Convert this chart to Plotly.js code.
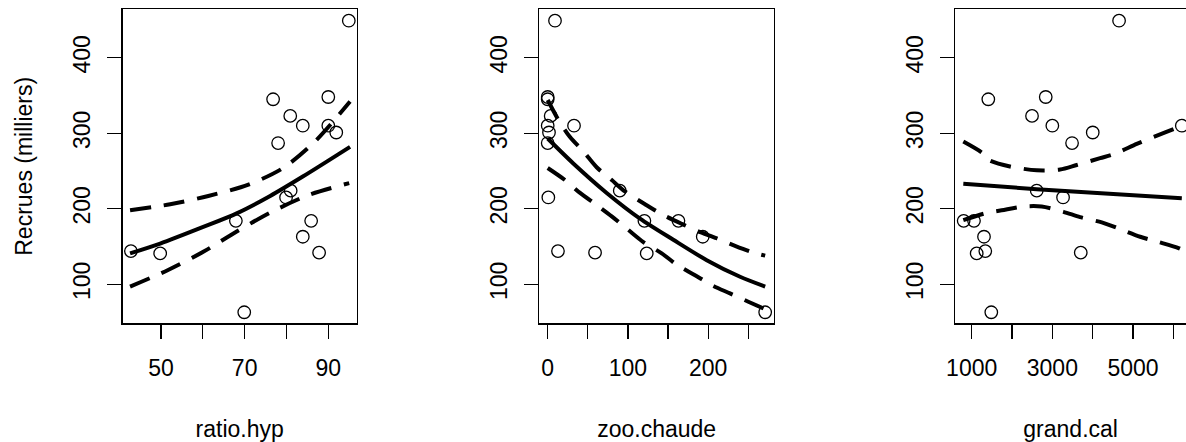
<!DOCTYPE html>
<html>
<head>
<meta charset="utf-8">
<script src="https://cdn.plot.ly/plotly-3.0.1.min.js"></script>
<style>html,body{margin:0;padding:0;background:#fff;}#chart{width:1186px;height:442px;}</style>
</head>
<body>
<div id="chart"></div>
<script>
// ---- observed data (one row per year) ----
const recrues   = [449, 348, 345, 323, 310, 310, 301, 287, 224, 215, 184, 184, 163, 144, 141, 142, 63];
const ratioHyp  = [94.9, 90.0, 76.8, 80.9, 90.0, 83.9, 91.9, 78.0, 81.0, 79.9, 67.9, 85.9, 83.9, 42.8, 49.8, 87.8, 69.9];
const zooChaude = [9.1, 0, 0, 3.7, 0, 32.8, 1.6, 0, 89.8, 0.8, 120.5, 162.9, 193.2, 12.8, 123.4, 59, 271];
const grandCal  = [4655, 2836, 1412, 2496, 3000, 6211, 4002, 3489, 2613, 3266, 801, 1057, 1305, 1337, 1124, 3705, 1486];

// ---- fitted curves and confidence bands ----
const fit1X = [42.6, 49.8, 60.1, 68.1, 76.1, 84.0, 95.2];
const fit1Y = [141, 154, 176, 194, 217, 243, 282];
const up1X  = [42.6, 52.2, 61.3, 70.9, 79.2, 86.8, 95.2];
const up1Y  = [198, 206, 217, 232, 254, 289, 342];
const lo1X  = [42.6, 51.7, 60.1, 68.1, 76.5, 85.2, 95.0];
const lo1Y  = [97, 119, 143, 170, 196, 218, 234];

const fit2X = [0, 31.9, 73.5, 115, 156.5, 198.2, 239.7, 271];
const fit2Y = [293, 260, 221, 187, 159, 132, 110, 97];
const up2X  = [0, 13.2, 27.8, 44.4, 61, 79.8, 96.3, 121.3, 140, 167, 185.7, 210.6, 233.4, 256.2, 271];
const up2Y  = [344, 318, 295, 276, 255, 238, 223, 206, 194, 180, 171, 161, 151, 142, 138];
const lo2X  = [0, 21.6, 40.3, 61, 79.8, 100.5, 119.2, 142.1, 160.8, 183.6, 204.4, 227.2, 250, 271];
const lo2Y  = [254, 238, 221, 205, 190, 172, 156, 141, 126, 112, 99, 88, 77, 67];

const fit3X = [792, 2613, 6211];
const fit3Y = [233, 226, 214];
const up3X  = [792, 1289, 1413, 1950, 2613, 3192, 3606, 4185, 4557, 5094, 5508, 6129, 6211];
const up3Y  = [289, 273, 265, 256, 251, 252, 258, 267, 273, 286, 295, 308, 310];
const lo3X  = [792, 1330, 1743, 2281, 2736, 3274, 3688, 4226, 4639, 5177, 5632, 6129, 6211];
const lo3Y  = [185, 194, 198, 203, 203, 196, 189, 182, 174, 163, 156, 148, 146];

// ---- tick labels ----
const x1Ticks = [50, 60, 70, 80, 90];       const x1Text = ['50', '', '70', '', '90'];
const x2Ticks = [0, 50, 100, 150, 200, 250]; const x2Text = ['0', '', '100', '', '200', ''];
const x3Ticks = [1000, 2000, 3000, 4000, 5000, 6000]; const x3Text = ['1000', '', '3000', '', '5000', ''];
const yTicks  = [100, 200, 300, 400];
const xTitles = ['ratio.hyp', 'zoo.chaude', 'grand.cal'];
const yTitle  = 'Recrues (milliers)';

// ---- drawing ----
const FONT = {family: 'Liberation Sans, Arial, sans-serif', size: 23, color: '#000'};
const LW = 1.3;
function pts(x, y, xa, ya) {
  return {x: x, y: y, xaxis: xa, yaxis: ya, type: 'scatter', mode: 'markers', hoverinfo: 'skip',
          marker: {symbol: 'circle-open', size: 12.5, color: '#000', line: {width: 1.3, color: '#000'}}};
}
function curve(x, y, xa, ya, dashed) {
  return {x: x, y: y, xaxis: xa, yaxis: ya, type: 'scatter', mode: 'lines', hoverinfo: 'skip',
          line: {color: '#000', width: 4, shape: 'spline', smoothing: 0.8, dash: dashed ? '21px,13px' : 'solid'}};
}
const data = [
  curve(fit1X, fit1Y, 'x', 'y', false), curve(up1X, up1Y, 'x', 'y', true), curve(lo1X, lo1Y, 'x', 'y', true),
  pts(ratioHyp, recrues, 'x', 'y'),
  curve(fit2X, fit2Y, 'x2', 'y2', false), curve(up2X, up2Y, 'x2', 'y2', true), curve(lo2X, lo2Y, 'x2', 'y2', true),
  pts(zooChaude, recrues, 'x2', 'y2'),
  curve(fit3X, fit3Y, 'x3', 'y3', false), curve(up3X, up3Y, 'x3', 'y3', true), curve(lo3X, lo3Y, 'x3', 'y3', true),
  pts(grandCal, recrues, 'x3', 'y3')
];

const W = 1186, H = 442;
const yDom = [1 - 323.3 / H, 1 - 9.3 / H];
function xAxis(dom, range, tv, tt, title, anchor, mirror) {
  return {domain: dom, range: range, tickvals: tv, ticktext: tt, anchor: anchor,
          ticks: 'outside', ticklen: 14, tickwidth: LW, tickcolor: '#000',
          showline: true, linecolor: '#000', linewidth: LW, mirror: mirror,
          showgrid: false, zeroline: false, tickfont: FONT, ticklabelstandoff: 10, automargin: false,
          title: {text: title, font: FONT, standoff: 45}};
}
function yAxis(anchor, mirror, title) {
  return {domain: yDom, range: [48.4, 464.1], tickvals: yTicks, anchor: anchor,
          ticks: 'outside', ticklen: 14, tickwidth: LW, tickcolor: '#000',
          showline: true, linecolor: '#000', linewidth: LW, mirror: mirror,
          showgrid: false, zeroline: false, tickangle: -90, tickfont: FONT, ticklabelstandoff: 8,
          automargin: false, title: {text: title || '', font: FONT, standoff: 30}};
}
const layout = {
  width: W, height: H, margin: {l: 0, r: 0, t: 0, b: 0},
  paper_bgcolor: '#fff', plot_bgcolor: '#fff', showlegend: false, font: FONT,
  xaxis:  xAxis([122.7 / W, 356.7 / W], [40.84, 96.79], x1Ticks, x1Text, xTitles[0], 'y', true),
  xaxis2: xAxis([539.3 / W, 774 / W], [-10.47, 282.0], x2Ticks, x2Text, xTitles[1], 'y2', true),
  xaxis3: xAxis([955.3 / W, 1], [593.3, 6315], x3Ticks, x3Text, xTitles[2], 'y3', true),
  yaxis:  yAxis('x', true, yTitle),
  yaxis2: yAxis('x2', true),
  yaxis3: yAxis('x3', false)
};
Plotly.newPlot('chart', data, layout, {staticPlot: true, displayModeBar: false});
</script>
</body>
</html>
